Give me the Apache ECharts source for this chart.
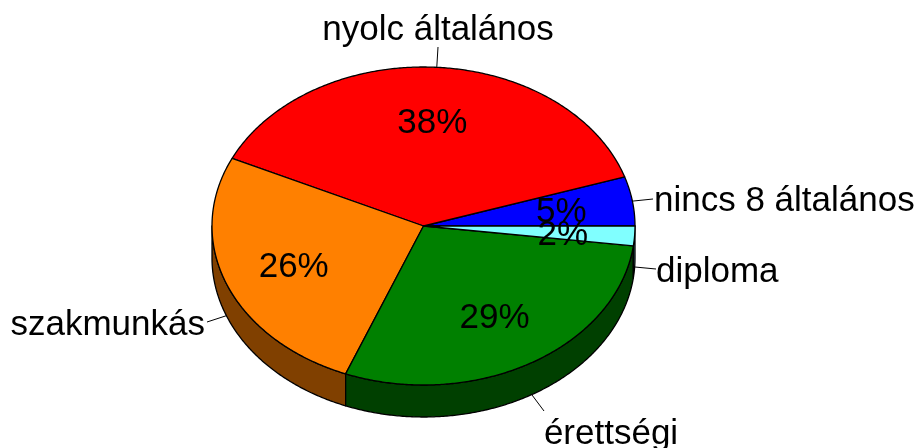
<!DOCTYPE html>
<html>
<head>
<meta charset="utf-8">
<style>html,body{margin:0;padding:0;background:#fff}#chart{width:918px;height:448px}</style>
<script src="https://cdn.jsdelivr.net/npm/echarts@6/dist/echarts.min.js"></script>
</head>
<body>
<div id="chart"></div>
<script>
var categories = ['nincs 8 általános', 'nyolc általános', 'szakmunkás', 'érettségi', 'diploma'];
var values = [5, 38, 26, 29, 2];
var topColors = ['#0000ff', '#ff0000', '#ff8000', '#008000', '#80ffff'];
var sideColors = ['#000080', '#800000', '#804000', '#004000', '#408080'];

// where the names sit, [x, y, align, verticalAlign] and the end of the leader line
var labelPos = [
    [654, 201, 'left', 'middle'],
    [438, 30, 'center', 'middle'],
    [205, 325, 'right', 'middle'],
    [611, 434, 'center', 'middle'],
    [656, 272, 'left', 'middle']
];
var leaderEnd = [[653, 199], [438, 47], [207, 322], [544, 411], [656, 269]];

var cx = 423.5, cy = 226, rx = 211.5, ry = 159, depth = 32;
var font = 'Liberation Sans';
var fontSize = 35;

var total = values.reduce(function(a, b){ return a + b; }, 0);
var angles = [];
var sum = 0;
values.forEach(function(v){
    angles.push([sum / total * 360, (sum + v) / total * 360]);
    sum += v;
});

function rim(deg, k, dy){
    var a = deg * Math.PI / 180;
    return [cx + rx * k * Math.cos(a), cy - ry * k * Math.sin(a) + (dy || 0)];
}
function arc(from, to, dy){
    var pts = [];
    var n = Math.max(2, Math.ceil(Math.abs(to - from) * 2));
    for (var i = 0; i <= n; i++) {
        pts.push(rim(from + (to - from) * i / n, 1, dy));
    }
    return pts;
}
var line = {stroke: '#000', lineWidth: 1.3, lineJoin: 'round'};

var myChart = echarts.init(document.getElementById('chart'), null, {renderer: 'canvas'});
myChart.setOption({
    animation: false,
    series: [
      {
        // visible front wall of the pie
        type: 'custom',
        coordinateSystem: 'none',
        z: 1,
        silent: true,
        data: values,
        renderItem: function(params){
            var i = params.dataIndex;
            var from = Math.max(angles[i][0], 180), to = Math.min(angles[i][1], 360);
            if (to <= from) return {type: 'group', children: []};
            var pts = arc(from, to, 0).concat(arc(to, from, depth));
            return {type: 'polygon', shape: {points: pts},
                style: echarts.util.extend({fill: sideColors[i]}, line)};
        }
      },
      {
        // top face
        type: 'custom',
        coordinateSystem: 'none',
        z: 2,
        silent: true,
        data: values,
        renderItem: function(params){
            var i = params.dataIndex;
            var pts = [[cx, cy]].concat(arc(angles[i][0], angles[i][1], 0));
            return {type: 'polygon', shape: {points: pts},
                style: echarts.util.extend({fill: topColors[i]}, line)};
        }
      },
      {
        // percent texts, names and leader lines
        type: 'custom',
        coordinateSystem: 'none',
        z: 3,
        silent: true,
        data: values,
        renderItem: function(params, api){
            var i = params.dataIndex;
            var mid = (angles[i][0] + angles[i][1]) / 2;
            var p = rim(mid, 0.66);
            var start = rim(mid, 1, Math.sin(mid * Math.PI / 180) < 0 ? depth - 1 : 0);
            return {type: 'group', children: [
                {type: 'line', shape: {x1: start[0], y1: start[1], x2: leaderEnd[i][0], y2: leaderEnd[i][1]},
                    style: {stroke: '#000', lineWidth: 1}},
                {type: 'text', x: p[0], y: p[1] + 2.5,
                    style: {text: Math.round(api.value(0) / total * 100) + '%', fill: '#000',
                        font: fontSize + 'px "' + font + '"', textAlign: 'center', textVerticalAlign: 'middle'}},
                {type: 'text', x: labelPos[i][0], y: labelPos[i][1],
                    style: {text: categories[i], fill: '#000',
                        font: fontSize + 'px "' + font + '"', textAlign: labelPos[i][2], textVerticalAlign: labelPos[i][3]}}
            ]};
        }
      }
    ]
});
</script>
</body>
</html>
